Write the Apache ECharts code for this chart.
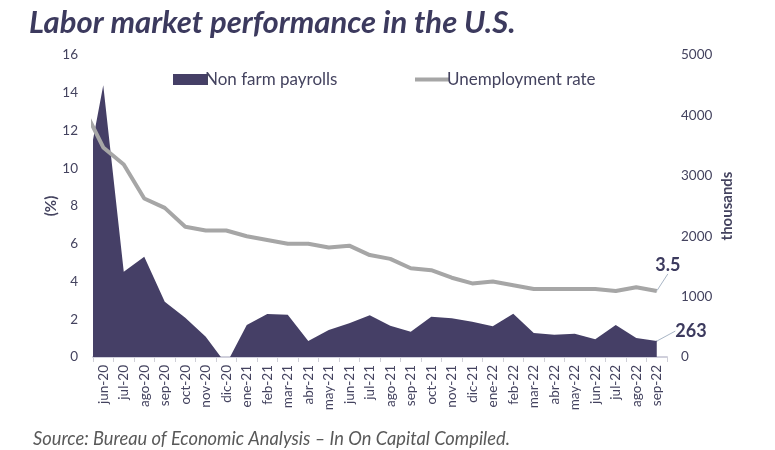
<!DOCTYPE html>
<html>
<head>
<meta charset="utf-8">
<script src="https://cdn.jsdelivr.net/npm/echarts@6/dist/echarts.min.js"></script>
<style>
html,body{margin:0;padding:0;background:#fff;}
#c{width:775px;height:450px;}
</style>
</head>
<body>
<div id="c"></div>
<script>
// months: first entry (may-20) sits half outside the plotted range
const months = ['may-20','jun-20','jul-20','ago-20','sep-20','oct-20','nov-20','dic-20','ene-21','feb-21','mar-21','abr-21','may-21','jun-21','jul-21','ago-21','sep-21','oct-21','nov-21','dic-21','ene-22','feb-22','mar-22','abr-22','may-22','jun-22','jul-22','ago-22','sep-22'];
const payrolls = [2690,4500,1410,1660,915,650,335,-120,530,710,700,265,447,560,690,517,420,668,640,583,510,714,398,368,386,293,528,315,263];
const unemployment = [13.3,11.1,10.2,8.4,7.9,6.9,6.7,6.7,6.4,6.2,6.0,6.0,5.8,5.9,5.4,5.2,4.7,4.6,4.2,3.9,4.0,3.8,3.6,3.6,3.6,3.6,3.5,3.7,3.5];
const leftTicks = {min:0, max:16, interval:2};
const rightTicks = {min:0, max:5000, interval:1000};

const axisLabels = months.slice(1);
const last = months.length - 1;
const FONT = 'Lato';
const TXT = '#44435f';

function toPoints(arr){ return arr.map((v,i)=>[i-1, v]); }

function withEndLabel(arr, color){
  const pts = toPoints(arr);
  pts[last] = {
    value: pts[last], symbol:'circle', symbolSize:1, itemStyle:{color:color},
    label: {show:true, position:'right', distance:5, fontFamily:FONT, fontWeight:'bold', fontSize:18, color:'#3c3a5e', formatter: p => String(p.value[1])},
    labelLine:{show:true, smooth:false, lineStyle:{color:'#a9b6c6', width:1}}
  };
  return pts;
}

const chart = echarts.init(document.getElementById('c'), null, {renderer:'canvas'});
chart.setOption({
  animation:false,
  backgroundColor:'#fff',
  title:{
    text:'Labor market performance in the U.S.',
    left:24, top:2,
    textStyle:{fontFamily:FONT, fontStyle:'italic', fontWeight:'bold', fontSize:31, color:'#3c3a5e'}
  },
  graphic:[{
    type:'text', left:33, top:430,
    style:{text:'Source: Bureau of Economic Analysis \u2013 In On Capital Compiled.', fontFamily:FONT, fontStyle:'italic', fontSize:18.3, fill:'#595959'}
  }],
  legend:[{
    left:168, top:66, itemWidth:35, itemHeight:11, itemGap:10,
    data:[{name:'Non farm payrolls', icon:'rect', itemStyle:{color:'#453f66'}}],
    textStyle:{fontFamily:FONT, fontSize:17, color:TXT, padding:[0,0,0,-8]}
  },{
    left:410, top:66, itemWidth:35, itemHeight:4, itemGap:10,
    data:[{name:'Unemployment rate', icon:'rect', itemStyle:{color:'#a6a6a6'}}],
    textStyle:{fontFamily:FONT, fontSize:17, color:TXT, padding:[0,0,0,-8]}
  }],
  grid:{left:93, right:108, top:55, bottom:93, containLabel:false},
  xAxis:[{
    type:'category', data:axisLabels, boundaryGap:true,
    axisLine:{show:true, lineStyle:{color:'#d0d0dc', width:2}},
    axisTick:{show:true, length:5, lineStyle:{color:'#d0d0d8'}},
    axisLabel:{rotate:90, interval:0, fontFamily:FONT, fontSize:13.5, color:TXT, margin:8},
    splitLine:{show:false}
  },{
    type:'value', min:-0.5, max:axisLabels.length-0.5, show:false
  }],
  yAxis:[{
    type:'value', min:leftTicks.min, max:leftTicks.max, interval:leftTicks.interval,
    name:'(%)', nameLocation:'middle', nameGap:34, nameRotate:90, nameMoveOverlap:false,
    nameTextStyle:{fontFamily:FONT, fontWeight:'bold', fontSize:15, color:TXT},
    axisLine:{show:false}, axisTick:{show:false}, splitLine:{show:false},
    axisLabel:{fontFamily:FONT, fontSize:13.5, color:TXT, margin:15}
  },{
    type:'value', min:rightTicks.min, max:rightTicks.max, interval:rightTicks.interval,
    name:'thousands', nameLocation:'middle', nameGap:53, nameRotate:90, nameMoveOverlap:false,
    nameTextStyle:{fontFamily:FONT, fontWeight:'bold', fontSize:15, color:TXT},
    axisLine:{show:false}, axisTick:{show:false}, splitLine:{show:false},
    axisLabel:{fontFamily:FONT, fontSize:13.5, color:TXT, margin:14, formatter: v => String(v)}
  }],
  series:[{
    name:'Non farm payrolls', type:'line', xAxisIndex:1, yAxisIndex:1,
    data: withEndLabel(payrolls, '#453f66'),
    showSymbol:true, symbol:'none', clip:true,
    lineStyle:{width:0, color:'#453f66'},
    itemStyle:{color:'#453f66'},
    areaStyle:{color:'#453f66', opacity:1, origin:0},
    z:2
  },{
    name:'Unemployment rate', type:'line', xAxisIndex:1, yAxisIndex:0,
    data: withEndLabel(unemployment, '#a6a6a6'),
    showSymbol:true, symbol:'none', clip:true,
    lineStyle:{width:4, color:'#a6a6a6'},
    itemStyle:{color:'#a6a6a6'},
    z:3
  }],
  labelLayout: function(p){
    if (p.dataIndex !== last) return;
    if (p.seriesIndex === 0) return {dx:13, dy:-10};
    return {dx:-7, dy:-26};
  }
});
</script>
</body>
</html>
